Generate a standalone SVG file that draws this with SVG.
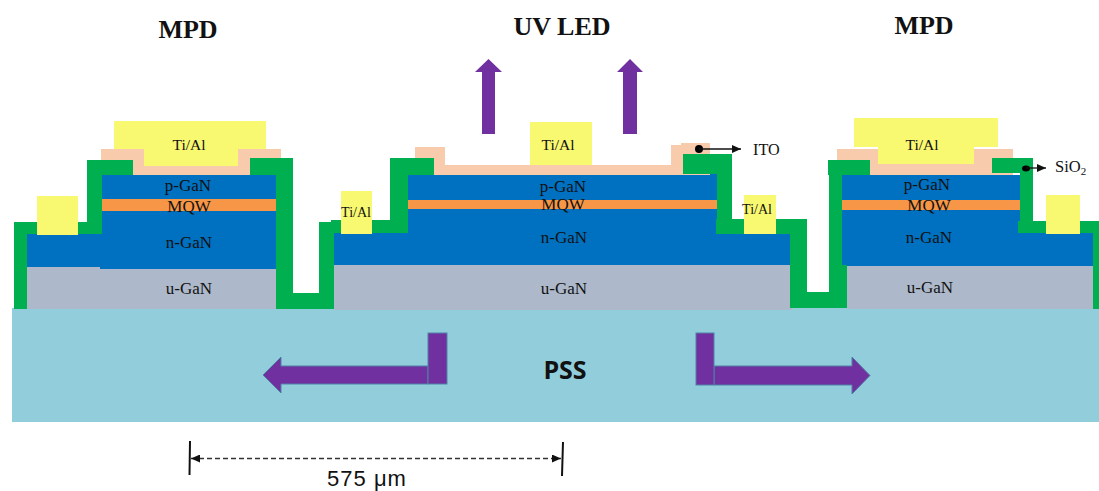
<svg xmlns="http://www.w3.org/2000/svg" width="1099" height="491" viewBox="0 0 1099 491">
<style>
.pss{fill:#92cddc}.u{fill:#adb9ca}.n{fill:#0070c0}.q{fill:#f79646}.ito{fill:#f8cbad}.ti{fill:#f9f871}.g{fill:#00b050}
.arrow{fill:#7030a0}.arrowS{fill:#7030a0;stroke:#4f81a5;stroke-width:1}
text{font-family:"Liberation Serif",serif;fill:#111}
.h{font-size:26px;font-weight:700;text-anchor:middle}
.l{font-size:17px;text-anchor:middle}
.m{font-size:15.500px;text-anchor:middle}
.s{font-size:14px;text-anchor:middle}
.lead{stroke:#111;stroke-width:1.3;fill:none}
.dim{stroke:#111;stroke-width:2;fill:none}
.dash{stroke:#333;stroke-width:1.3;stroke-dasharray:5 3;fill:none}
</style>
<defs>
<marker id="ah" markerWidth="10" markerHeight="8" refX="9" refY="4" orient="auto-start-reverse" markerUnits="userSpaceOnUse"><path d="M0 0L9 4L0 8Z" fill="#111"/></marker>
</defs>
<rect id="substrate" class="pss" x="12" y="308" width="1087" height="114"/>
<text id="pss-label" x="565" y="379" font-size="25" font-weight="700" text-anchor="middle" style="font-family:'Open Sans',sans-serif">PSS</text>

<g id="mpd-left">
<rect class="u" x="27" y="267" width="250" height="42"/>
<rect class="n" x="27" y="234" width="75" height="33"/>
<rect class="n" x="100" y="211" width="178" height="58"/>
<rect class="n" x="102" y="175" width="176" height="24"/>
<rect class="q" x="102" y="199" width="176" height="12"/>
<path class="ito" d="M101 149H281V175H101Z"/>
<path class="ti" d="M114 121H266V149H238V166H144V149H114Z"/>
<path class="g" d="M14 222H37V234H27V309H14ZM78 222H87V160H133V175H102V234H78Z"/>
<path class="g" d="M250 158H293V293H319V222H333V309H276V175H250Z"/>
<rect class="ti" x="37" y="196" width="41" height="39"/>
<text class="m" x="189" y="150">Ti/Al</text>
<text class="l" x="188" y="191">p-GaN</text>
<text class="l" x="189" y="212">MQW</text>
<text class="l" x="189" y="248">n-GaN</text>
<text class="l" x="189" y="294">u-GaN</text>
</g>

<g id="uv-led">
<rect class="u" x="334" y="265" width="458" height="45"/>
<rect class="n" x="334" y="233" width="456" height="32"/>
<rect class="n" x="408" y="174" width="309" height="91"/>
<rect class="q" x="408" y="200" width="309" height="9"/>
<path class="ito" d="M415 147H445V165H671V145H681V143H710V175H415Z"/>
<rect class="ti" x="530" y="122" width="62" height="43"/>
<path class="g" d="M331 220H390V158H434V175H408V233H334V309H320V222H331Z"/>
<path class="g" d="M683 154H732V219H807V292H829V308H792V234H716V219H717V174H683Z"/>
<rect class="ti" x="341" y="191" width="31" height="43"/>
<rect class="ti" x="744" y="195" width="32" height="39"/>
<text class="m" x="558" y="150">Ti/Al</text>
<text class="s" x="356" y="217">Ti/Al</text>
<text class="s" x="757" y="214">Ti/Al</text>
<text class="l" x="563" y="192">p-GaN</text>
<text class="l" x="563" y="210">MQW</text>
<text class="l" x="564" y="243">n-GaN</text>
<text class="l" x="564" y="294">u-GaN</text>
</g>

<g id="mpd-right">
<rect class="u" x="847" y="266" width="246" height="43"/>
<rect class="n" x="842" y="233" width="251" height="33"/>
<rect class="n" x="842" y="175" width="178" height="91"/>
<rect class="q" x="842" y="200" width="178" height="10"/>
<path class="ito" d="M837 149H1013V175H837Z"/>
<path class="ti" d="M854 118H998V147H974V164H878V147H854Z"/>
<path class="g" d="M828 160H870V175H842V265H847V308H790V219H807V292H829V175H828Z"/>
<path class="g" d="M992 158H1033V221H1099V309H1093V233H1018V221H1020V173H992Z"/>
<rect class="ti" x="1046" y="195" width="34" height="39"/>
<text class="m" x="922" y="150">Ti/Al</text>
<text class="l" x="927" y="190">p-GaN</text>
<text class="l" x="929" y="211">MQW</text>
<text class="l" x="929" y="243">n-GaN</text>
<text class="l" x="930" y="293">u-GaN</text>
</g>

<g id="connectors">
<path class="arrow" d="M488.500 59L502 72H495V134H482V72H475Z"/>
<path class="arrow" d="M630 59L643 72H637V134H623V72H617Z"/>
<path class="arrowS" d="M428 366V384H281V393L263 375L281 357V366Z"/>
<rect class="arrowS" x="428" y="333" width="19" height="51"/>
<path class="arrowS" d="M714 366V385H852V394L870 375.500L852 357V366Z"/>
<rect class="arrowS" x="696" y="333" width="18" height="52"/>
<circle cx="699" cy="149" r="4" fill="#000"/>
<path class="lead" d="M699 149H741" marker-end="url(#ah)"/>
<ellipse cx="1026" cy="168.500" rx="4" ry="3" fill="#000"/>
<path class="lead" d="M1026 168H1046" marker-end="url(#ah)"/>
<path class="dim" d="M190 441L189.500 475M563 442L562 476"/>
<path class="dash" d="M191 458.500H561" marker-start="url(#ah)" marker-end="url(#ah)"/>
</g>

<text id="title-mpd-left" class="h" x="188" y="38">MPD</text>
<text id="title-uv" class="h" x="562" y="35">UV LED</text>
<text id="title-mpd-right" class="h" x="924" y="34">MPD</text>
<text id="ito-label" x="753" y="155" font-size="16.200">ITO</text>
<text id="sio2-label" x="1055" y="172" font-size="16.500">SiO<tspan font-size="11" dy="3">2</tspan></text>
<text id="dim-label" x="367" y="486" font-size="22" text-anchor="middle" letter-spacing="1" style="font-family:'Liberation Sans',sans-serif">575 μm</text>
</svg>
